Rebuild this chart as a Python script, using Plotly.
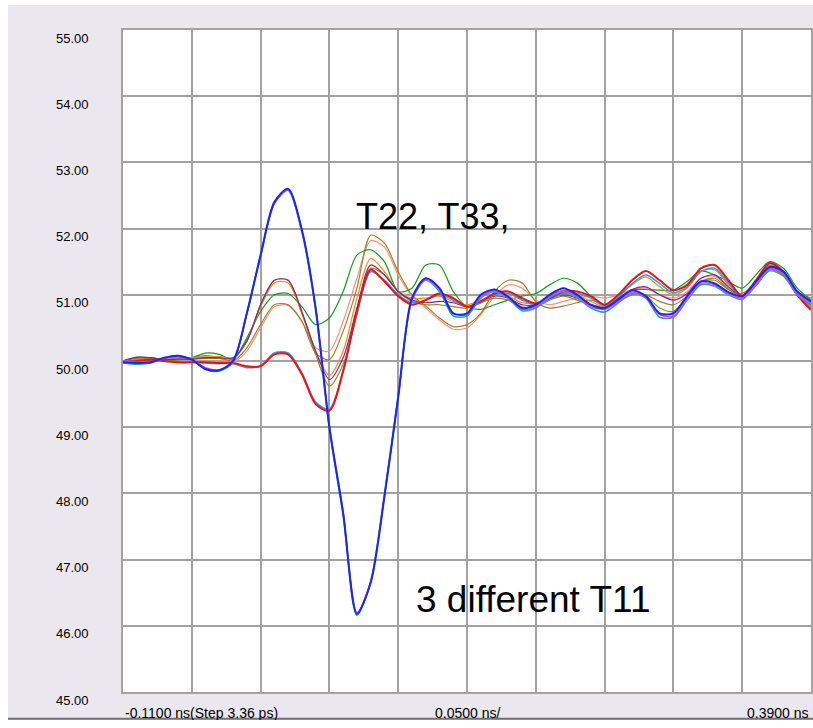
import plotly.graph_objects as go

# time axis (ns), one sample every 0.01 ns
t = [round(-0.11 + 0.01 * k, 2) for k in range(51)]

blue = [49.98, 49.97, 49.98, 50.05, 50.08, 50.02, 49.88, 49.86, 50.0, 50.72, 51.6, 52.4, 52.6, 51.98, 50.8, 49.0,
        47.7, 46.18, 46.65, 47.95, 49.45, 50.95, 51.25, 51.1, 50.72, 50.72, 51.0, 51.08, 50.97, 50.8, 50.85, 51.0,
        51.1, 51.0, 50.85, 50.8, 50.93, 51.07, 50.98, 50.72, 50.72, 50.98, 51.2, 51.17, 51.04, 50.98, 51.2, 51.42,
        51.35, 51.05, 50.9]
teal = [49.97, 49.95, 49.97, 50.04, 50.07, 50.02, 49.87, 49.85, 49.98, 50.72, 51.58, 52.38, 52.58, 51.95, 50.78, 48.98,
        47.68, 46.16, 46.67, 47.98, 49.48, 50.92, 51.22, 51.05, 50.68, 50.68, 50.95, 51.05, 50.95, 50.76, 50.8, 50.96,
        51.05, 50.96, 50.8, 50.74, 50.88, 51.02, 50.95, 50.66, 50.66, 50.92, 51.15, 51.13, 51.0, 50.93, 51.14, 51.38,
        51.3, 51.0, 50.84]
magenta = [50.0, 49.98, 49.98, 50.04, 50.06, 50.02, 49.9, 49.87, 50.0, 50.72, 51.6, 52.38, 52.58, 51.97, 50.8, 49.02,
           47.72, 46.2, 46.67, 47.96, 49.45, 50.93, 51.23, 51.08, 50.72, 50.7, 50.97, 51.06, 50.96, 50.78, 50.82, 50.98,
           51.07, 50.98, 50.82, 50.78, 50.9, 51.04, 50.96, 50.7, 50.68, 50.95, 51.17, 51.15, 51.02, 50.95, 51.16, 51.4,
           51.32, 51.02, 50.87]
red = [49.98, 50.0, 50.02, 50.0, 49.98, 49.98, 49.98, 49.97, 49.97, 49.92, 49.92, 50.1, 50.1, 49.8, 49.35, 49.25,
       49.85, 50.75, 51.38, 51.2, 50.98, 50.85, 50.92, 51.02, 50.95, 50.82, 50.9, 51.02, 51.05, 50.95, 50.87, 50.95,
       51.05, 51.05, 50.98, 50.85, 51.0, 51.22, 51.36, 51.22, 51.07, 51.15, 51.4, 51.45, 51.22, 50.98, 51.22, 51.48,
       51.35, 51.0, 50.77]
dodger = [49.99, 50.01, 50.02, 50.0, 49.98, 49.98, 49.97, 49.96, 49.96, 49.9, 49.93, 50.12, 50.12, 49.82, 49.38, 49.27,
          49.85, 50.72, 51.35, 51.22, 51.0, 50.88, 50.92, 51.0, 50.92, 50.82, 50.88, 51.0, 51.02, 50.92, 50.85, 50.93,
          51.02, 51.02, 50.95, 50.83, 50.97, 51.17, 51.3, 51.17, 51.03, 51.12, 51.35, 51.4, 51.18, 50.97, 51.2, 51.45,
          51.32, 51.0, 50.8]
purple = [50.0, 50.06, 50.05, 50.02, 50.03, 50.03, 50.05, 50.05, 50.05, 50.3, 50.85, 51.22, 51.22, 50.75, 50.15, 49.72,
          50.05, 50.8, 51.45, 51.3, 51.05, 50.92, 50.88, 50.9, 50.88, 50.82, 50.9, 50.98, 50.95, 50.85, 50.85, 50.95,
          51.0, 50.95, 50.85, 50.8, 50.92, 51.08, 51.12, 51.0, 50.92, 51.02, 51.25, 51.3, 51.12, 50.98, 51.15, 51.38,
          51.3, 51.0, 50.85]
olive = [50.0, 50.05, 50.04, 50.01, 50.02, 50.03, 50.04, 50.04, 50.04, 50.3, 50.85, 51.22, 51.22, 50.72, 50.1, 49.62,
         49.95, 50.7, 51.4, 51.3, 51.05, 50.9, 50.85, 50.85, 50.82, 50.8, 50.88, 50.95, 50.92, 50.82, 50.82, 50.92,
         50.98, 50.92, 50.85, 50.82, 50.95, 51.02, 50.98, 50.8, 50.75, 50.98, 51.2, 51.25, 51.08, 50.98, 51.15, 51.36,
         51.28, 51.0, 50.88]
orange = [50.0, 50.03, 50.04, 50.02, 50.03, 50.05, 50.06, 50.07, 50.05, 50.3, 50.82, 51.18, 51.18, 50.72, 50.15, 49.78,
          50.15, 50.95, 51.55, 51.35, 51.05, 50.95, 50.95, 50.98, 50.9, 50.85, 50.92, 51.0, 50.98, 50.88, 50.87, 50.96,
          51.03, 51.0, 50.9, 50.82, 50.97, 51.15, 51.27, 51.12, 51.0, 51.1, 51.35, 51.38, 51.15, 50.98, 51.18, 51.44,
          51.32, 51.0, 50.82]
green = [50.0, 50.04, 50.05, 50.02, 50.02, 50.05, 50.12, 50.1, 50.02, 50.35, 50.75, 51.0, 51.02, 50.82, 50.55, 50.65,
         51.05, 51.6, 51.68, 51.5, 51.05, 51.1, 51.45, 51.45, 51.05, 50.82, 50.78, 50.85, 50.92, 50.98, 51.02, 51.15,
         51.25, 51.18, 50.98, 50.85, 50.95, 51.07, 51.08, 51.07, 51.07, 51.2, 51.36, 51.3, 51.2, 51.1, 51.3, 51.5,
         51.4, 51.1, 50.92]
brown = [50.0, 50.02, 50.03, 50.02, 50.04, 50.05, 50.08, 50.05, 50.0, 50.2, 50.55, 50.85, 50.85, 50.6, 50.12, 50.02,
         50.45, 51.1, 51.9, 51.78, 51.35, 51.0, 50.83, 50.65, 50.52, 50.55, 50.72, 51.05, 51.22, 51.18, 50.9, 50.8,
         50.83, 50.88, 50.92, 50.85, 50.9, 51.0, 51.0, 50.9, 50.85, 50.98, 51.2, 51.22, 51.08, 51.02, 51.2, 51.42,
         51.3, 51.05, 50.95]
salmon = [50.0, 50.01, 50.02, 50.02, 50.03, 50.04, 50.06, 50.04, 49.98, 50.15, 50.5, 50.82, 50.84, 50.6, 50.2, 50.15,
          50.6, 51.25, 51.82, 51.72, 51.3, 50.98, 50.8, 50.62, 50.48, 50.5, 50.7, 50.98, 51.15, 51.1, 50.92, 50.85,
          50.9, 50.95, 50.98, 50.95, 51.0, 51.08, 51.1, 51.0, 50.95, 51.05, 51.25, 51.28, 51.1, 51.0, 51.15, 51.38,
          51.3, 51.05, 50.9]

yticks = [45, 46, 47, 48, 49, 50, 51, 52, 53, 54, 55]
ytick_text = ["%.2f" % v for v in yticks]
xticks = [round(-0.11 + 0.05 * i, 2) for i in range(11)]
xlabels = ["-0.1100 ns(Step 3.36 ps)", "0.0500 ns/", "0.3900 ns"]

series = [
    ("salmon", salmon, "#FF8C80", 1.2),
    ("brown", brown, "#A0802C", 1.2),
    ("green", green, "#18981C", 1.2),
    ("orange", orange, "#FF8A10", 1.2),
    ("olive", olive, "#8C8C10", 1.2),
    ("purple", purple, "#8A1E9A", 1.2),
    ("dodger", dodger, "#2A9CFF", 1.6),
    ("red", red, "#F01010", 2.0),
    ("teal", teal, "#20A8A8", 1.6),
    ("magenta", magenta, "#FF30FF", 1.4),
    ("blue", blue, "#1428F0", 2.0),
]

fig = go.Figure()
for name, vals, col, w in series:
    fig.add_trace(go.Scatter(x=t, y=vals, mode="lines", name=name,
                             line=dict(color=col, width=w, shape="spline", smoothing=0.8),
                             hoverinfo="skip"))

grey = "#EAE8EE"
fig.update_layout(
    width=805, height=715,
    margin=dict(l=115, r=0, t=25, b=28),
    paper_bgcolor=grey, plot_bgcolor="white",
    showlegend=False,
    font=dict(family="Liberation Sans, Arial, sans-serif", color="black"),
    xaxis=dict(range=[-0.11, 0.39], tickvals=xticks, showticklabels=False, ticks="",
               showgrid=True, gridcolor="#A2A2A2", gridwidth=1.6, zeroline=False,
               showline=True, linecolor="#A2A2A2", linewidth=1.6, mirror=True, fixedrange=True),
    yaxis=dict(range=[45, 55], tickvals=yticks, ticktext=ytick_text, ticks="",
               tickfont=dict(size=13), ticklabelstandoff=30, ticklabelshift=8,
               showgrid=True, gridcolor="#A2A2A2", gridwidth=1.6, zeroline=False,
               showline=True, linecolor="#A2A2A2", linewidth=1.6, mirror=True, fixedrange=True),
)

# dark separator line at the bottom edge of the grey panel
fig.add_shape(type="line", xref="paper", yref="paper", x0=-0.2, x1=1.01, y0=-0.0405, y1=-0.0405,
              line=dict(color="#707070", width=2), layer="below")

# bottom axis labels
fig.add_annotation(text=xlabels[0], xref="paper", yref="paper", x=0.0, y=-0.0317,
                   xanchor="left", yanchor="middle", showarrow=False, font=dict(size=14))
fig.add_annotation(text=xlabels[1], xref="paper", yref="paper", x=0.5, y=-0.0317,
                   xanchor="center", yanchor="middle", showarrow=False, font=dict(size=14))
fig.add_annotation(text=xlabels[2], xref="paper", yref="paper", x=1.0, y=-0.0317,
                   xanchor="right", yanchor="middle", showarrow=False, font=dict(size=14))

# in-plot labels
fig.add_annotation(text="T22, T33,", x=0.058, y=52.19, xref="x", yref="y",
                   xanchor="left", yanchor="middle", showarrow=False, font=dict(size=36))
fig.add_annotation(text="3 different T11", x=0.1017, y=46.39, xref="x", yref="y",
                   xanchor="left", yanchor="middle", showarrow=False, font=dict(size=37))

fig.write_html("out.html", post_script="document.body.style.margin='5px 0px 0px 8px';")
